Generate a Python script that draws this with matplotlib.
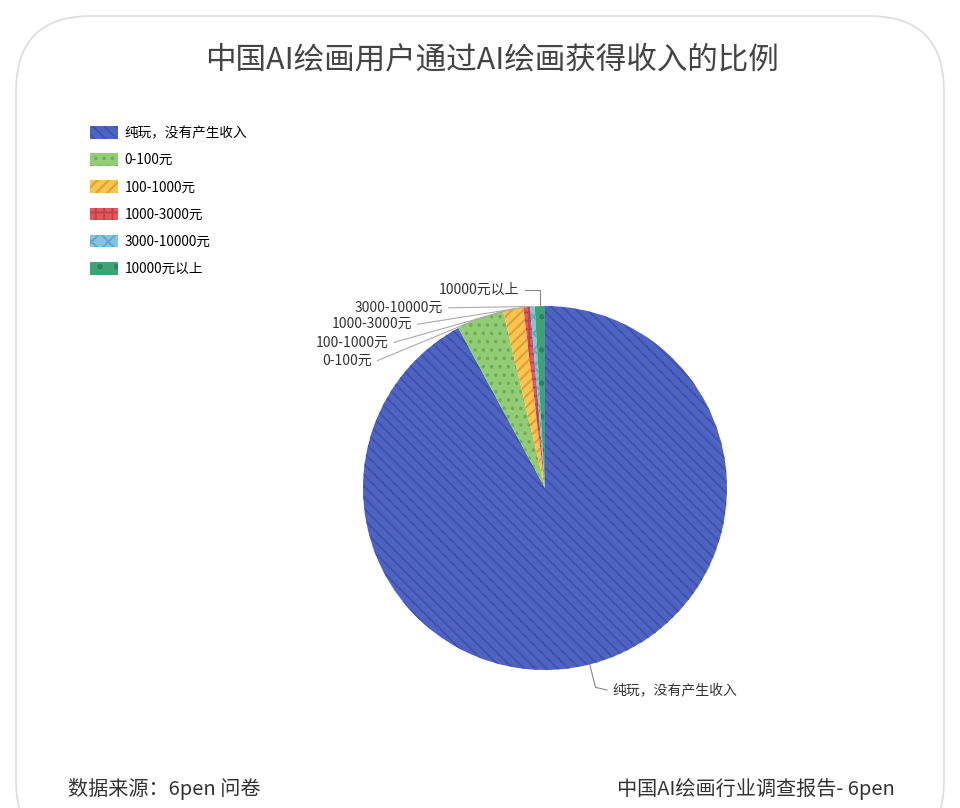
import numpy as np
import matplotlib
matplotlib.use("Agg")
import matplotlib.pyplot as plt
from matplotlib.patches import FancyBboxPatch, Patch

plt.rcParams['font.family'] = ['Noto Sans CJK SC', 'DejaVu Sans']
plt.rcParams['hatch.linewidth'] = 1.4

# data (percent)
categories = ["纯玩，没有产生收入", "0-100元", "100-1000元", "1000-3000元", "3000-10000元", "10000元以上"]
values = [92.1, 4.2, 1.8, 0.6, 0.4, 0.9]
colors = ["#4f64c2", "#92cd76", "#f7c552", "#e3585d", "#82c5e0", "#3fa274"]
hatch_colors = ["#3f53ad", "#6fae57", "#e99a2e", "#c2414a", "#5fa9c9", "#2e8259"]
hatches = ["\\\\\\", "..", "///", "++", "xx", "."]

# label placement in pie units (x, y of the text anchor)
label_pos = [(0.37, -1.11), (-0.95, 0.70), (-0.86, 0.80), (-0.73, 0.90), (-0.56, 0.99), (-0.14, 1.09)]

title = "中国AI绘画用户通过AI绘画获得收入的比例"
source = "数据来源：6pen 问卷"
report = "中国AI绘画行业调查报告- 6pen"

fig = plt.figure(figsize=(9.6, 8.08), dpi=100)
fig.patch.set_facecolor("white")

# background canvas in pixel coordinates
bg = fig.add_axes([0, 0, 1, 1])
bg.set_xlim(0, 960)
bg.set_ylim(808, 0)
bg.axis("off")
card = FancyBboxPatch((16, 16), 928, 840, boxstyle="round,pad=0,rounding_size=75",
                      facecolor="white", edgecolor="#dcdcdc", linewidth=1.2)
bg.add_patch(card)
bg.text(492, 60, title, ha="center", va="center", fontsize=22, color="#444444")
bg.text(68, 789, source, ha="left", va="center", fontsize=14.5, color="#333333")
bg.text(895, 789, report, ha="right", va="center", fontsize=14.5, color="#333333")

# pie
cx, cy, r = 545, 488, 182
ax = fig.add_axes([(cx - r) / 960, (808 - cy - r) / 808, 2 * r / 960, 2 * r / 808])
wedges, _ = ax.pie(values, startangle=90, counterclock=False, radius=1,
                   wedgeprops=dict(linewidth=0))
for w, c, hc, h in zip(wedges, colors, hatch_colors, hatches):
    w.set_facecolor(c)
    w.set_edgecolor(hc)
    w.set_hatch(h)
    w.set_linewidth(0)
ax.set_xlim(-1, 1)
ax.set_ylim(-1, 1)
ax.set_aspect("equal")
ax.axis("off")

# labels with leader lines
for i, (w, lab, (tx, ty)) in enumerate(zip(wedges, categories, label_pos)):
    mid = np.deg2rad((w.theta1 + w.theta2) / 2)
    ex, ey = np.cos(mid), np.sin(mid)
    if i == 0:
        kx, ky = ex * 1.13, ey * 1.13
        ax.plot([ex, kx, tx - 0.03], [ey, ky, ty], color="#888888", lw=0.8, clip_on=False)
        ax.text(tx, ty, lab, ha="left", va="center", fontsize=10, color="#333333")
    elif i == len(wedges) - 1:
        ax.plot([ex, ex, tx + 0.03], [ey, ty, ty], color="#888888", lw=0.8, clip_on=False)
        ax.text(tx, ty, lab, ha="right", va="center", fontsize=10, color="#333333")
    else:
        ax.plot([ex, tx + 0.03], [ey, ty], color="#aaaaaa", lw=0.8, clip_on=False)
        ax.text(tx, ty, lab, ha="right", va="center", fontsize=10, color="#333333")

# legend
handles = [Patch(facecolor=c, edgecolor=hc, hatch=h, linewidth=0)
           for c, hc, h in zip(colors, hatch_colors, hatches)]
fig.legend(handles, categories, loc="upper left", bbox_to_anchor=(90 / 960, 1 - 126 / 808),
           frameon=False, fontsize=9.8, handlelength=2.05, handleheight=1.05,
           handletextpad=0.5, labelspacing=0.97, borderpad=0, borderaxespad=0)

fig.savefig("out.png", dpi=100, facecolor="white")
